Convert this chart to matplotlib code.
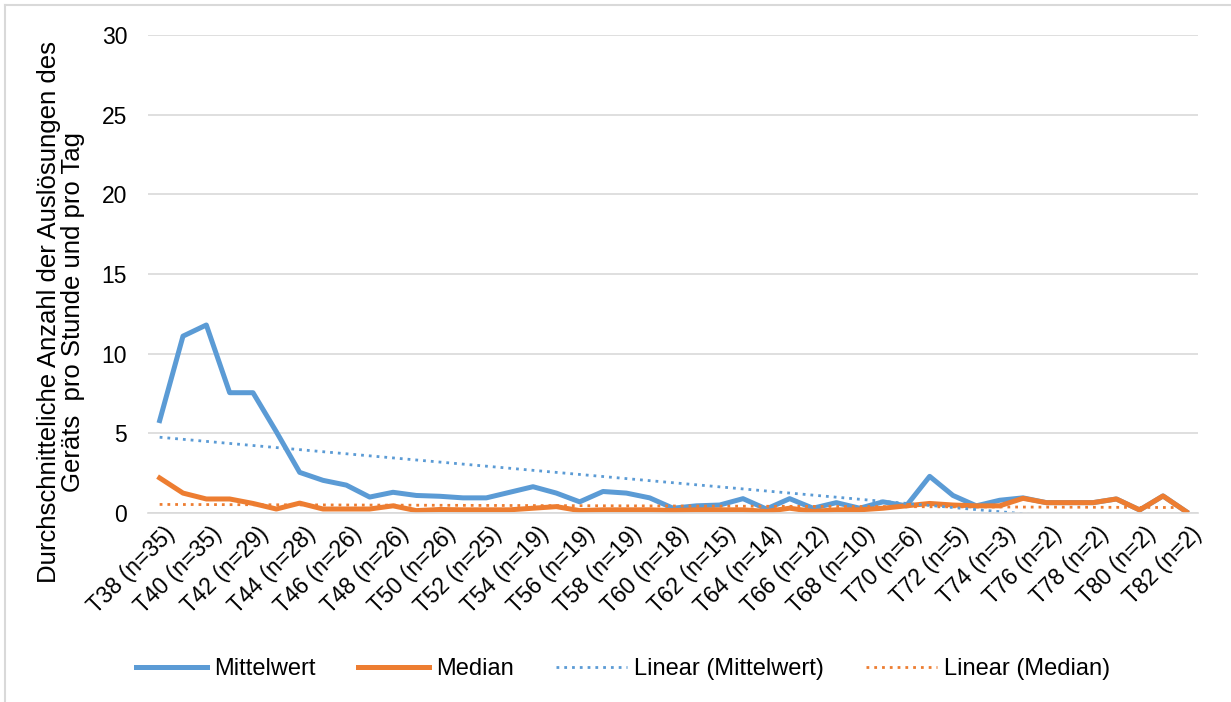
import numpy as np
import matplotlib.pyplot as plt
import matplotlib.transforms as mtransforms
from matplotlib.lines import Line2D

plt.rcParams['font.family'] = ['Liberation Sans', 'DejaVu Sans']

# Weeks T38..T82 with number of cases
weeks = list(range(38, 83))
n_cases = [35, 35, 35, 31, 29, 29, 28, 27, 26, 26, 26, 26, 26, 26, 25, 22, 19, 19, 19, 19, 19, 18, 18,
           16, 15, 15, 14, 13, 12, 11, 10, 8, 6, 6, 5, 4, 3, 3, 2, 2, 2, 2, 2, 2, 2]

mittelwert = [5.8, 11.1, 11.8, 7.55, 7.55, 5.1, 2.55, 2.05, 1.75, 1.0, 1.3, 1.1, 1.05, 0.95, 0.95,
              1.3, 1.65, 1.25, 0.7, 1.35, 1.25, 0.95, 0.3, 0.45, 0.5, 0.9, 0.25, 0.9, 0.3, 0.65,
              0.3, 0.7, 0.45, 2.3, 1.1, 0.45, 0.8, 0.95, 0.65, 0.65, 0.65, 0.88, 0.19, 1.07, 0.08]
median = [2.2, 1.25, 0.88, 0.88, 0.6, 0.25, 0.62, 0.25, 0.25, 0.25, 0.45, 0.15, 0.22, 0.2, 0.2,
          0.2, 0.3, 0.4, 0.15, 0.2, 0.2, 0.2, 0.15, 0.2, 0.2, 0.2, 0.1, 0.3, 0.1, 0.2,
          0.2, 0.3, 0.45, 0.6, 0.5, 0.45, 0.45, 0.92, 0.65, 0.65, 0.65, 0.88, 0.19, 1.07, 0.08]

labels = [f'T{w} (n={n})' for w, n in zip(weeks, n_cases)]
x = np.arange(len(weeks))

# linear trendlines like Excel
fit_mw = np.polyval(np.polyfit(x, mittelwert, 1), x)
fit_md = np.polyval(np.polyfit(x, median, 1), x)

blue = '#5B9BD5'
orange = '#ED7D31'
grid = '#D9D9D9'

fig = plt.figure(figsize=(12.31, 7.02), dpi=100)
ax = fig.add_axes([148 / 1231, 189 / 702, 1050 / 1231, 478 / 702])

ax.plot(x, mittelwert, color=blue, lw=3.6, solid_joinstyle='round', label='Mittelwert')
ax.plot(x, median, color=orange, lw=3.6, solid_joinstyle='round', label='Median')
ax.plot(x, fit_mw, color=blue, lw=2, linestyle=(0, (1, 1.8)), label='Linear (Mittelwert)')
ax.plot(x, fit_md, color=orange, lw=2, linestyle=(0, (1, 1.8)), label='Linear (Median)')

ax.set_xlim(-0.5, len(x) - 0.5)
ax.set_ylim(0, 30)
ax.set_yticks(range(0, 31, 5))
ax.set_xticks(x[::2])
ax.set_xticklabels(labels[::2], rotation=45, ha='right', va='top', rotation_mode='anchor',
                   fontsize=16.5)
ax.tick_params(axis='y', length=0, pad=15, labelsize=16.5)
ax.tick_params(axis='x', length=0, pad=7)
# shift the rotated labels a little to the right, like Excel
shift = mtransforms.ScaledTranslation(4 / 100, 0, fig.dpi_scale_trans)
for lab in ax.get_xticklabels():
    lab.set_transform(lab.get_transform() + shift)
ax.grid(axis='y', color=grid, lw=1.2)
ax.set_axisbelow(True)
for s in ['top', 'right', 'left']:
    ax.spines[s].set_visible(False)
ax.spines['bottom'].set_color(grid)
ax.spines['bottom'].set_linewidth(1.2)

fig.text(61 / 1231, 1 - 312 / 702,
         'Durchschnitteliche Anzahl der Auslösungen des\nGeräts  pro Stunde und pro Tag',
         rotation=90, ha='center', va='center', multialignment='center', fontsize=18.5,
         linespacing=1.0)

fig.legend(loc='center', bbox_to_anchor=(623 / 1231, 1 - 669 / 702), ncol=4, frameon=False,
           fontsize=17, handlelength=3.0, handletextpad=0.3, columnspacing=1.8)

# chart border
fig.add_artist(Line2D([5 / 1231, 5 / 1231], [0, 1 - 5 / 702], color=grid, lw=1.5))
fig.add_artist(Line2D([5 / 1231, 1], [1 - 5 / 702, 1 - 5 / 702], color=grid, lw=1.5))

fig.savefig('out.png', dpi=100)
